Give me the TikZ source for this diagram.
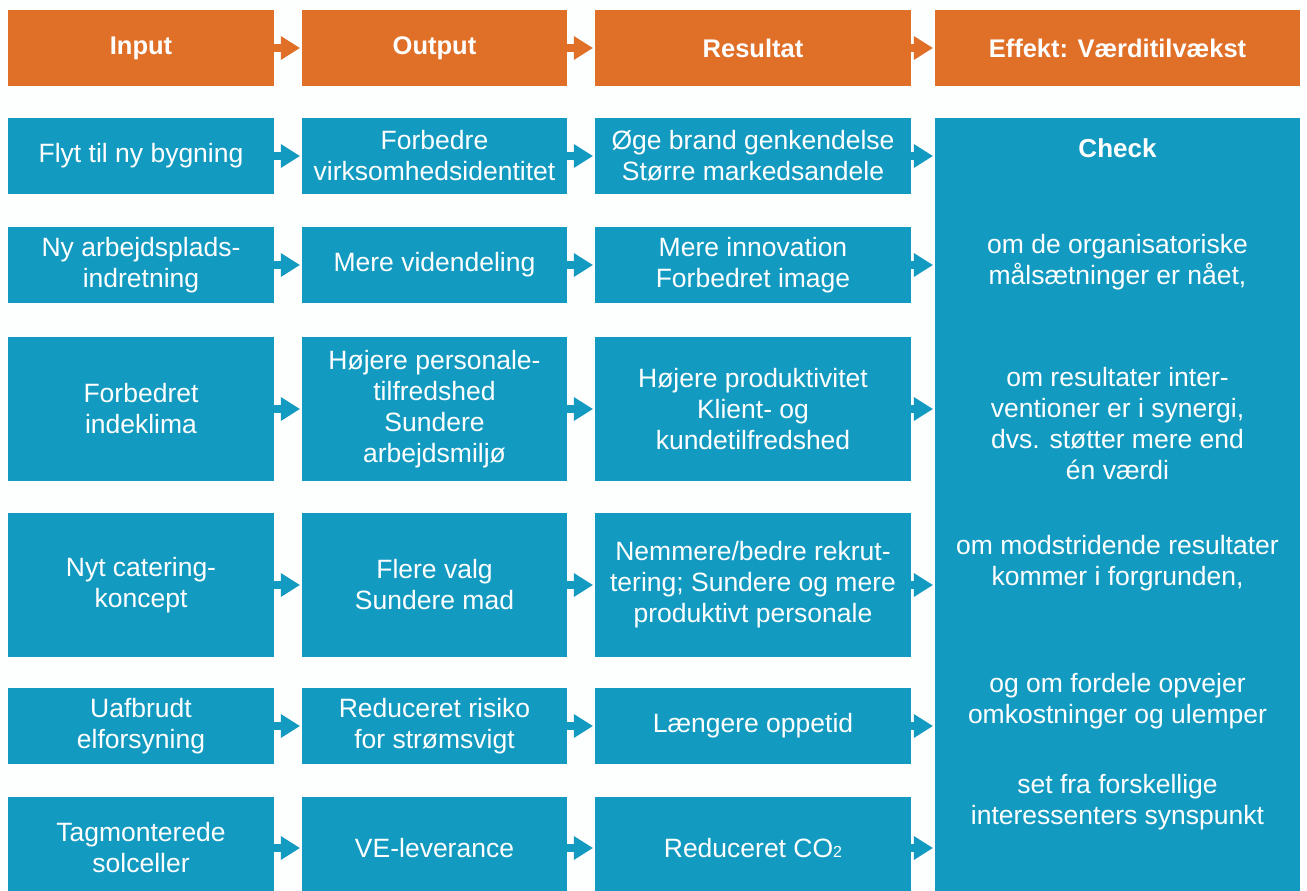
\documentclass[tikz,border=0pt]{standalone}
\usepackage{fontspec}
\setmainfont{Liberation Sans}
\usetikzlibrary{arrows.meta}
\definecolor{headorange}{HTML}{E06F28}
\definecolor{cellblue}{HTML}{139AC1}
\definecolor{paper}{HTML}{FDFEFE}

\tikzset{
  cell/.style={fill=cellblue, text=white, align=center, inner sep=0pt,
    font=\fontsize{26.5}{31}\selectfont},
  head/.style={cell, fill=headorange, font=\fontsize{25.5}{31}\selectfont\bfseries},
  colA/.style={minimum width=266pt},
  colB/.style={minimum width=265pt},
  colC/.style={minimum width=316pt},
  colD/.style={minimum width=365pt},
  short/.style={minimum height=76pt},
  tall/.style={minimum height=144pt},
  note/.style={text=white, align=center, inner sep=0pt,
    font=\fontsize{26.5}{31}\selectfont},
  flow/.style={draw=cellblue, line width=8pt,
    -{Triangle[width=24pt,length=19pt,line width=0pt]}, shorten >=2pt},
  headflow/.style={flow, draw=headorange},
}

\begin{document}
\begin{tikzpicture}[x=1pt,y=-1pt]
  \useasboundingbox (0,0) rectangle (1307,891);
  \clip (0,0) rectangle (1307,891);
  \fill[paper] (0,0) rectangle (1307,891);

  % column headings
  \node[head, colA, short] (h1) at (141,48)    {Input};
  \node[head, colB, short] (h2) at (434.5,48)  {Output};
  \node[head, colC, short] (h3) at (753,48)    {Resultat};
  \node[head, colD, short] (h4) at (1117.5,48) {Effekt: Værditilvækst};

  % input / output / result chains
  \node[cell, colA, short] (a1) at (141,156)   {Flyt til ny bygning};
  \node[cell, colB, short] (b1) at (434.5,156) {Forbedre\\virksomhedsidentitet};
  \node[cell, colC, short] (c1) at (753,156)   {Øge brand genkendelse\\Større markedsandele};

  \node[cell, colA, short] (a2) at (141,265)   {Ny arbejdsplads-\\indretning};
  \node[cell, colB, short] (b2) at (434.5,265) {Mere videndeling};
  \node[cell, colC, short] (c2) at (753,265)   {Mere innovation\\Forbedret image};

  \node[cell, colA, tall] (a3) at (141,409)   {Forbedret\\indeklima};
  \node[cell, colB, tall] (b3) at (434.5,409) {Højere personale-\\tilfredshed\\Sundere\\arbejdsmiljø};
  \node[cell, colC, tall] (c3) at (753,409)   {Højere produktivitet\\Klient- og\\kundetilfredshed};

  \node[cell, colA, tall] (a4) at (141,585)   {Nyt catering-\\koncept};
  \node[cell, colB, tall] (b4) at (434.5,585) {Flere valg\\Sundere mad};
  \node[cell, colC, tall] (c4) at (753,585)   {Nemmere/bedre rekrut-\\tering; Sundere og mere\\produktivt personale};

  \node[cell, colA, short] (a5) at (141,726)   {Uafbrudt\\elforsyning};
  \node[cell, colB, short] (b5) at (434.5,726) {Reduceret risiko\\for strømsvigt};
  \node[cell, colC, short] (c5) at (753,726)   {Længere oppetid};

  \node[cell, colA, minimum height=102pt] (a6) at (141,848)   {Tagmonterede\\solceller};
  \node[cell, colB, minimum height=102pt] (b6) at (434.5,848) {VE-leverance};
  \node[cell, colC, minimum height=102pt] (c6) at (753,848)   {Reduceret CO{\fontsize{16}{16}\selectfont 2}};

  % value check column
  \node[cell, colD, minimum height=781pt] (chk) at (1117.5,508.5) {};
  \node[note, font=\fontsize{26}{31}\selectfont\bfseries] (t0) at (1117.5,148) {Check};
  \node[note] (t1) at (1117.5,262) {om de organisatoriske\\målsætninger er nået,};
  \node[note] (t2) at (1117.5,424) {om resultater inter-\\ventioner er i synergi,\\dvs. støtter mere end\\én værdi};
  \node[note] (t3) at (1117.5,563) {om modstridende resultater\\kommer i forgrunden,};
  \node[note] (t4) at (1117.5,701) {og om fordele opvejer\\omkostninger og ulemper};
  \node[note] (t5) at (1117.5,802) {set fra forskellige\\interessenters synspunkt};

  % arrows
  \draw[headflow] (h1) -- (h2);
  \draw[headflow] (h2) -- (h3);
  \draw[headflow] (h3) -- (h4);
  \foreach \r in {1,...,6} {
    \draw[flow] (a\r) -- (b\r);
    \draw[flow] (b\r) -- (c\r);
    \draw[flow] (c\r.east) -- (c\r.east -| chk.west);
  }
\end{tikzpicture}
\end{document}
